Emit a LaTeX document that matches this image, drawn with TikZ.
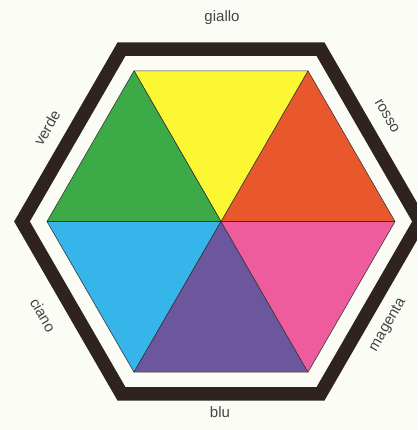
\documentclass[tikz,border=0pt]{standalone}
\usepackage{fontspec}
\setmainfont{Liberation Sans}
\usetikzlibrary{calc}

\definecolor{paper}{HTML}{FCFCF7}
\definecolor{bandcol}{HTML}{2E231E}
\definecolor{rossocol}{HTML}{E9572C}
\definecolor{giallocol}{HTML}{FCF733}
\definecolor{verdecol}{HTML}{3DAA48}
\definecolor{cianocol}{HTML}{35B5EA}
\definecolor{blucol}{HTML}{6C579F}
\definecolor{magentacol}{HTML}{EE5C9E}
\definecolor{labelcol}{HTML}{454545}

\begin{document}
\begin{tikzpicture}[
  x=0.025cm, y=0.025cm,
  hexband/.style={draw=bandcol, line width=0.34cm, line join=miter},
  wedge/.style={draw=black!80, line width=0.4pt, line join=round},
  edgelabel/.style={font=\fontsize{10.7}{12}\selectfont, text=labelcol, inner sep=0pt}
]

% ---- Canvas ----
\fill[paper] (-221,-208.5) rectangle (196,221.5);
\useasboundingbox (-221,-208.5) rectangle (196,221.5);
\clip (-221,-208.5) rectangle (196,221.5);

% ---- Corners of the colour hexagon ----
\coordinate (c) at (0,0);
\foreach \i in {0,...,5} {
  \coordinate (v\i) at (\i*60:174);
}

% ---- Six triangles ----
\filldraw[wedge, fill=rossocol]   (c) -- (v0) -- (v1) -- cycle;
\filldraw[wedge, fill=giallocol]  (c) -- (v1) -- (v2) -- cycle;
\filldraw[wedge, fill=verdecol]   (c) -- (v2) -- (v3) -- cycle;
\filldraw[wedge, fill=cianocol]   (c) -- (v3) -- (v4) -- cycle;
\filldraw[wedge, fill=blucol]     (c) -- (v4) -- (v5) -- cycle;
\filldraw[wedge, fill=magentacol] (c) -- (v5) -- (v0) -- cycle;

% ---- Outer frame ----
\draw[hexband] (0:199) -- (60:199) -- (120:199) -- (180:199)
               -- (240:199) -- (300:199) -- cycle;

% ---- Colour names ----
\node[edgelabel]            (giallo)  at (1,204)       {giallo};
\node[edgelabel, rotate=-60] (rosso)  at (166,105.5)   {rosso};
\node[edgelabel, rotate=60] (magenta) at (167,-103.5)  {magenta};
\node[edgelabel]            (blu)     at (-1,-191)     {blu};
\node[edgelabel, rotate=-60] (ciano)  at (-178,-93.5)  {ciano};
\node[edgelabel, rotate=60] (verde)   at (-174,93.5)   {verde};

\end{tikzpicture}
\end{document}
